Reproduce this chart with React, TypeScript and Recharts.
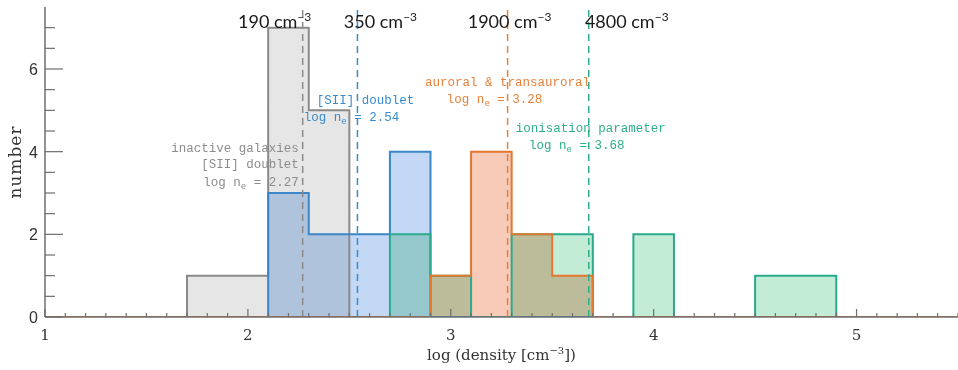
import { ComposedChart, Area, XAxis, YAxis, ReferenceLine } from 'recharts';

document.body.style.margin = '0';

// left edges of the 0.2-wide bins (plus domain ends)
const binEdges = [1.0, 1.1, 1.3, 1.5, 1.7, 1.9, 2.1, 2.3, 2.5, 2.7, 2.9, 3.1, 3.3, 3.5, 3.7, 3.9, 4.1, 4.3, 4.5, 4.7, 4.9, 5.1, 5.3, 5.5];
const inactive = [0, 0, 0, 0, 1, 1, 7, 5, 0, 0, 0, 0, 0, 0, 0, 0, 0, 0, 0, 0, 0, 0, 0, 0];
const siiDoublet = [0, 0, 0, 0, 0, 0, 3, 2, 2, 4, 0, 0, 0, 0, 0, 0, 0, 0, 0, 0, 0, 0, 0, 0];
const ionisation = [0, 0, 0, 0, 0, 0, 0, 0, 0, 2, 1, 0, 2, 2, 0, 2, 0, 0, 1, 1, 0, 0, 0, 0];
const auroral = [0, 0, 0, 0, 0, 0, 0, 0, 0, 0, 1, 4, 2, 1, 0, 0, 0, 0, 0, 0, 0, 0, 0, 0];

const xTicks = Array.from({ length: 46 }, (_, i) => Math.round(10 + i) / 10);
const yTicks = [0, 0.5, 1, 1.5, 2, 2.5, 3, 3.5, 4, 4.5, 5, 5.5, 6, 6.5, 7];
const yMajor = [0, 2, 4, 6];

const medians = [2.27, 2.54, 3.28, 3.68];
const densityLabels = ['190', '350', '1900', '4800'];

const rows = binEdges.map((x, i) => ({
  x,
  inactive: inactive[i],
  sii: siiDoublet[i],
  ion: ionisation[i],
  aur: auroral[i],
}));

const series = [
  { key: 'inactive', fill: '#e6e6e6', stroke: '#8a8a8a' },
  { key: 'sii', fill: '#c3d8f4', stroke: '#3a86c8' },
  { key: 'ion', fill: '#c3ecd6', stroke: '#2aaa8c' },
  { key: 'aur', fill: '#f8cbb8', stroke: '#e4762e' },
];

const AXIS = '#6e6e6e';
const MONO = 'Liberation Mono, monospace';
const SERIF = 'DejaVu Serif, serif';

const isMajor = (v: number) => Math.abs(v - Math.round(v)) < 1e-6;

const BottomTick = (props: any) => {
  const { x, y, payload } = props;
  const major = isMajor(payload.value);
  return (
    <g>
      <line x1={x} x2={x} y1={y} y2={y - (major ? 8 : 4)} stroke={AXIS} strokeWidth={1.2} />
      {major && (
        <text x={x} y={y + 23} textAnchor="middle" fontFamily={SERIF} fontSize={15} fill="#333">
          {Math.round(payload.value)}
        </text>
      )}
    </g>
  );
};

const TopTick = (props: any) => {
  const { x, y, payload } = props;
  const major = isMajor(payload.value);
  return <line x1={x} x2={x} y1={y} y2={y + (major ? 9 : 5)} stroke={AXIS} strokeWidth={1.2} />;
};

const LeftTick = (props: any) => {
  const { x, y, payload } = props;
  const major = yMajor.includes(payload.value);
  return (
    <g>
      <line x1={x} x2={x + (major ? 18 : 10)} y1={y} y2={y} stroke={AXIS} strokeWidth={1.2} />
      {major && (
        <text x={x - 7} y={y + 6} textAnchor="end" fontFamily="Liberation Sans, sans-serif" fontSize={16} fill="#333">
          {payload.value}
        </text>
      )}
    </g>
  );
};

const YTitle = (props: any) => {
  const { viewBox } = props;
  const cy = viewBox.y + viewBox.height / 2;
  return (
    <text x={15} y={cy} transform={`rotate(-90 15 ${cy})`} textAnchor="middle" dominantBaseline="central" fontFamily={SERIF} fontSize={17} letterSpacing={1} fill="#333">
      number
    </text>
  );
};

const XTitle = (props: any) => {
  const { viewBox } = props;
  const cx = viewBox.x + viewBox.width / 2;
  return (
    <text x={cx} y={viewBox.y + 43} textAnchor="middle" fontFamily={SERIF} fontSize={15} fill="#333">
      log (density [cm<tspan dy={-6} fontSize={10}>−3</tspan><tspan dy={6}>])</tspan>
    </text>
  );
};

type NoteLine = { text?: string; ne?: string; dx: number; y: number };

const LineNotes = (props: any) => {
  const { viewBox, density, headDx, color, anchor, notes } = props;
  const lx = viewBox.x;
  return (
    <g>
      <text x={lx + headDx} y={28} textAnchor="middle" fontFamily="Lato, sans-serif" fontSize={18} fill="#1a1a1a">
        {density} cm<tspan dy={-7} fontSize={12}>−3</tspan>
      </text>
      {(notes as NoteLine[]).map((n, i) => (
        <text key={i} x={lx + n.dx} y={n.y} textAnchor={anchor} fontFamily={MONO} fontSize={12.5} fill={color}>
          {n.ne ? (
            <>
              log n<tspan dy={3} fontSize={9}>e</tspan>
              <tspan dy={-3}>{' = ' + n.ne}</tspan>
            </>
          ) : (
            n.text
          )}
        </text>
      ))}
    </g>
  );
};

export default function App() {
  return (
    <div style={{ width: 958, height: 370, background: '#fff' }}>
      <style>{`.hist-fill { mix-blend-mode: multiply; }`}</style>
      <ComposedChart width={958} height={370} data={rows} margin={{ top: 7, right: 0, bottom: 0, left: 0 }}>
        <XAxis
          dataKey="x"
          type="number"
          domain={[1, 5.5]}
          ticks={xTicks}
          interval={0}
          height={53}
          tickSize={0}
          tickMargin={0}
          tick={<BottomTick />}
          axisLine={{ stroke: AXIS, strokeWidth: 1.5 }}
          tickLine={false}
          allowDataOverflow
          label={<XTitle />}
        />
        <XAxis
          xAxisId="top"
          dataKey="x"
          type="number"
          orientation="top"
          domain={[1, 5.5]}
          ticks={xTicks}
          interval={0}
          height={0}
          tickSize={0}
          tickMargin={0}
          tick={<TopTick />}
          axisLine={{ stroke: AXIS, strokeWidth: 1.5 }}
          tickLine={false}
          allowDataOverflow
        />
        <YAxis
          type="number"
          domain={[0, 7.5]}
          ticks={yTicks}
          interval={0}
          width={45}
          tickSize={0}
          tickMargin={0}
          tick={<LeftTick />}
          axisLine={{ stroke: AXIS, strokeWidth: 1.5 }}
          tickLine={false}
          allowDataOverflow
          label={<YTitle />}
        />
        {series.map((s) => (
          <Area
            key={s.key + '-fill'}
            className="hist-fill"
            type="stepAfter"
            dataKey={s.key}
            fill={s.fill}
            fillOpacity={1}
            stroke="none"
            isAnimationActive={false}
            dot={false}
            activeDot={false}
          />
        ))}
        {series.map((s) => (
          <Area
            key={s.key + '-line'}
            type="stepAfter"
            dataKey={s.key}
            fill="none"
            stroke={s.stroke}
            strokeWidth={2}
            isAnimationActive={false}
            dot={false}
            activeDot={false}
          />
        ))}
        <ReferenceLine
          x={medians[0]}
          stroke="#8a8a8a"
          strokeWidth={1.5}
          strokeDasharray="7 5"
          label={
            <LineNotes
              density={densityLabels[0]}
              headDx={-28}
              color="#8c8c8c"
              anchor="end"
              notes={[
                { text: 'inactive galaxies', dx: -4, y: 152 },
                { text: '[SII] doublet', dx: -4, y: 168 },
                { ne: '2.27', dx: -4, y: 186 },
              ]}
            />
          }
        />
        <ReferenceLine
          x={medians[1]}
          stroke="#3a8ccc"
          strokeWidth={1.5}
          strokeDasharray="7 5"
          label={
            <LineNotes
              density={densityLabels[1]}
              headDx={23}
              color="#3a8ccc"
              anchor="middle"
              notes={[
                { text: '[SII] doublet', dx: 8, y: 104 },
                { ne: ' 2.54', dx: -6, y: 121 },
              ]}
            />
          }
        />
        <ReferenceLine
          x={medians[2]}
          stroke="#e8803a"
          strokeWidth={1.5}
          strokeDasharray="7 5"
          label={
            <LineNotes
              density={densityLabels[2]}
              headDx={2}
              color="#e8803a"
              anchor="middle"
              notes={[
                { text: 'auroral & transauroral', dx: 0, y: 86 },
                { ne: '3.28', dx: -13, y: 103 },
              ]}
            />
          }
        />
        <ReferenceLine
          x={medians[3]}
          stroke="#2eae8c"
          strokeWidth={1.5}
          strokeDasharray="7 5"
          label={
            <LineNotes
              density={densityLabels[3]}
              headDx={38}
              color="#2eae8c"
              anchor="middle"
              notes={[
                { text: 'ionisation parameter', dx: 2, y: 132 },
                { ne: '3.68', dx: -12, y: 149 },
              ]}
            />
          }
        />
      </ComposedChart>
    </div>
  );
}
